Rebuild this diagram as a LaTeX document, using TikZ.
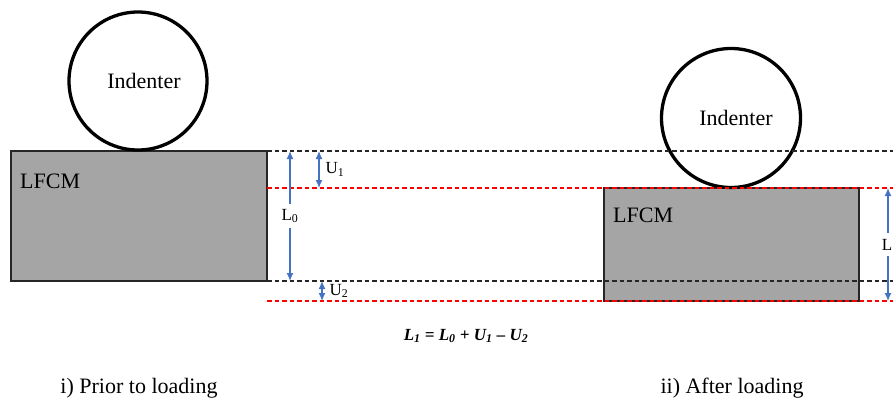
\documentclass[tikz,border=0pt]{standalone}
\usepackage{fontspec}
\setmainfont{Liberation Serif}
\usetikzlibrary{arrows.meta}
\definecolor{boxgray}{HTML}{A5A5A5}
\definecolor{arrblue}{HTML}{4472C4}
\begin{document}
\begin{tikzpicture}[x=1pt,y=-1pt,
  sample/.style={draw=black!85, line width=1.3pt, fill=boxgray, inner sep=0pt},
  ball/.style={circle, draw=black, line width=3.3pt, inner sep=0pt, font=\fontsize{22}{25}\selectfont},
  lbl/.style={font=\fontsize{22}{25}\selectfont, inner sep=0pt},
  small/.style={font=\fontsize{17}{19}\selectfont, inner sep=1pt},
  blkdash/.style={draw=black!85, line width=1.4pt, dash pattern=on 4.5pt off 3pt},
  reddash/.style={draw=red, line width=1.4pt, dash pattern=on 4.5pt off 3pt},
  dimarr/.style={draw=arrblue, line width=1.4pt, {Latex[length=8pt,width=7pt]}-{Latex[length=8pt,width=7pt]}}
]
\useasboundingbox (0,0) rectangle (893,405);
% left sample
\node[sample, minimum width=256pt, minimum height=130pt] (lbox) at (139,216) {};
\node[lbl, anchor=west] (lfcm1) at (20,181) {LFCM};
\node[ball, minimum size=138pt] (lind) at (138,81) {\hspace{12pt}Indenter};
% right sample
\node[sample, minimum width=255pt, minimum height=113pt] (rbox) at (731.5,244.5) {};
\node[lbl, anchor=west] (lfcm2) at (613,215) {LFCM};
\node[ball, minimum size=139pt] (rind) at (731,118) {\hspace{10pt}Indenter};
% reference lines
\coordinate (a1) at (267,151); \coordinate (a2) at (893,151);
\coordinate (b1) at (267,188); \coordinate (b2) at (893,188);
\coordinate (c1) at (267,281); \coordinate (c2) at (893,281);
\coordinate (d1) at (267,301); \coordinate (d2) at (893,301);
\draw[blkdash] (a1) -- (a2);
\draw[reddash] (b1) -- (b2);
\draw[blkdash] (c1) -- (c2);
\draw[reddash] (d1) -- (d2);
% dimension arrows
\coordinate (l0t) at (290,151); \coordinate (l0b) at (290,281);
\draw[dimarr] (l0t) -- node[small, fill=white, inner ysep=5pt] (l0lab) {L\textsubscript{0}} (l0b);
\coordinate (u1t) at (319,151); \coordinate (u1b) at (319,188);
\draw[dimarr] (u1t) -- node[small, anchor=west, xshift=5pt] (u1lab) {U\textsubscript{1}} (u1b);
\coordinate (u2t) at (322,281); \coordinate (u2b) at (322,301);
\draw[dimarr] (u2t) -- node[small, anchor=west, xshift=6pt] (u2lab) {U\textsubscript{2}} (u2b);
\coordinate (l1t) at (888,188); \coordinate (l1b) at (888,301);
\draw[dimarr] (l1t) -- node[small, fill=white, inner ysep=6pt, inner xsep=0pt, xshift=-1pt] (l1lab) {L} (l1b);
% formula
\node[small] (eq) at (466,336) {\bfseries\itshape L\textsubscript{1} = L\textsubscript{0} + U\textsubscript{1} – U\textsubscript{2}};
% captions
\node[lbl] (cap1) at (139,388) {i) Prior to loading};
\node[lbl] (cap2) at (732,388) {ii) After loading};
\end{tikzpicture}
\end{document}
